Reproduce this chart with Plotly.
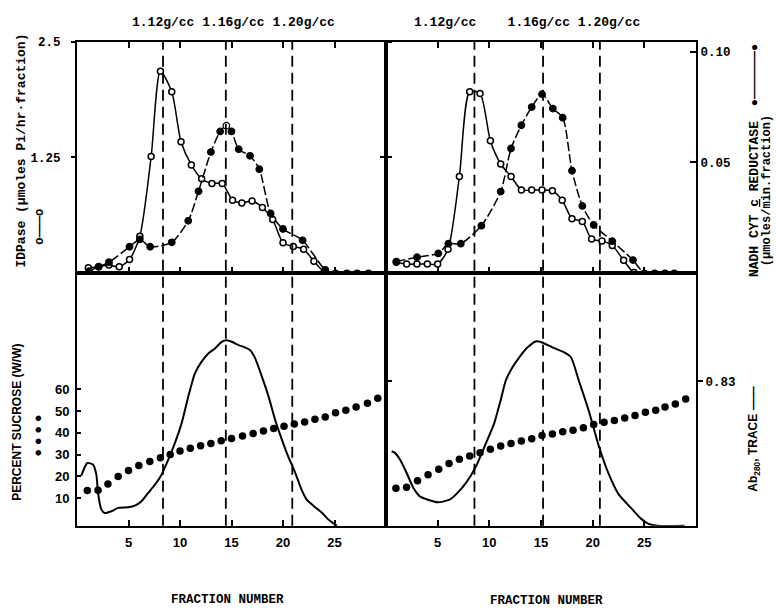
import plotly.graph_objects as go

# ---------------- DATA ----------------
# Top-left panel: IDPase (open circles, left scale) and NADH cyt c reductase (filled, right scale)
tl_idp_x = [1.1, 2.1, 3.1, 4.1, 5.1, 6.1, 7.2, 8.1, 9.2, 10.1, 11.1, 12.1, 13.1, 14.1, 15.1, 16.0, 17.0, 18.0, 19.0, 20.0, 21.0, 22.0, 23.0, 24.0, 26.2, 28.3]
tl_idp_y = [0.06, 0.07, 0.09, 0.07, 0.15, 0.40, 1.26, 2.18, 1.96, 1.42, 1.17, 1.02, 0.97, 0.97, 0.79, 0.76, 0.78, 0.71, 0.58, 0.33, 0.29, 0.26, 0.13, 0.02, 0.0, 0.0]
tl_nadh_x = [1.2, 2.1, 3.1, 5.1, 6.1, 7.1, 9.2, 10.8, 11.8, 13.0, 13.9, 14.5, 15.0, 15.7, 16.8, 17.7, 18.8, 20.0, 21.9, 24.1, 25.1, 27.2]
tl_nadh_y = [0.001, 0.003, 0.005, 0.012, 0.0153, 0.012, 0.014, 0.0237, 0.037, 0.0547, 0.064, 0.0666, 0.064, 0.056, 0.053, 0.047, 0.027, 0.020, 0.0149, 0.0016, 0.0, 0.0]
tl_nadh_open = 11  # index of the open-drawn peak point

# Top-right panel
tr_idp_x = [1.0, 2.0, 3.0, 4.0, 5.0, 6.0, 7.1, 8.1, 9.1, 10.1, 11.1, 12.1, 13.1, 14.1, 15.1, 16.1, 17.05, 18.0, 19.0, 19.9, 20.9, 21.9, 23.0, 24.0, 27.0]
tr_idp_y = [0.12, 0.10, 0.10, 0.10, 0.10, 0.26, 1.045, 1.96, 1.94, 1.43, 1.18, 1.045, 0.90, 0.90, 0.90, 0.89, 0.79, 0.59, 0.56, 0.37, 0.35, 0.30, 0.14, 0.01, 0.0]
tr_nadh_x = [1.0, 3.0, 5.06, 6.03, 7.24, 9.23, 11.1, 12.1, 13.1, 14.1, 15.1, 16.15, 17.1, 18.0, 19.0, 20.1, 21.9, 23.9, 25.0, 26.0, 27.9]
tr_nadh_y = [0.0053, 0.0073, 0.009, 0.0134, 0.0134, 0.0215, 0.0369, 0.0563, 0.0668, 0.075, 0.0808, 0.0743, 0.0702, 0.0463, 0.0304, 0.0218, 0.0145, 0.006, 0.0, 0.0, 0.0]

# Bottom-left panel: percent sucrose (dots) and Ab280 trace (line)
bl_suc_x = [1.0, 2.04, 3.0, 4.0, 5.0, 6.0, 7.07, 8.1, 9.05, 10.0, 11.0, 12.0, 13.0, 14.0, 15.0, 16.07, 17.1, 18.1, 19.1, 20.1, 21.1, 22.1, 23.1, 24.1, 25.1, 26.1, 27.1, 28.2, 29.2]
bl_suc_y = [13.5, 13.6, 16.5, 20.0, 22.7, 25.0, 26.8, 28.6, 30.1, 31.7, 32.9, 34.1, 35.1, 36.4, 37.4, 38.5, 39.7, 40.8, 42.0, 43.0, 44.0, 45.0, 46.2, 47.3, 49.2, 50.3, 51.8, 53.6, 55.9]
bl_ab_x = [0.42, 1.0, 1.56, 1.88, 2.04, 2.37, 2.69, 3.34, 3.99, 4.97, 5.61, 6.26, 6.91, 7.56, 8.21, 8.86, 9.5, 10.16, 10.8, 11.45, 12.1, 12.75, 13.4, 14.05, 14.54, 15.02, 15.7, 16.3, 16.8, 17.3, 17.95, 18.6, 19.24, 19.9, 20.5, 21.2, 21.8, 22.3, 23.0, 23.8, 24.4, 25.25]
bl_ab_y = [0.288, 0.361, 0.351, 0.294, 0.189, 0.093, 0.074, 0.084, 0.103, 0.107, 0.116, 0.141, 0.189, 0.236, 0.294, 0.380, 0.475, 0.590, 0.742, 0.876, 0.943, 0.990, 1.019, 1.057, 1.066, 1.057, 1.038, 1.025, 1.009, 0.962, 0.857, 0.742, 0.608, 0.494, 0.399, 0.303, 0.208, 0.151, 0.113, 0.074, 0.036, 0.0]

# Bottom-right panel
br_suc_x = [0.96, 1.99, 3.05, 4.07, 5.1, 6.1, 7.1, 8.1, 9.1, 10.1, 11.1, 12.1, 13.1, 14.1, 15.1, 16.1, 17.1, 18.1, 19.1, 20.1, 21.1, 22.1, 23.1, 24.1, 25.1, 26.1, 27.0, 28.0, 29.0]
br_suc_y = [14.5, 15.0, 18.0, 20.8, 23.3, 25.9, 27.9, 29.4, 30.9, 32.4, 34.0, 35.1, 36.2, 37.3, 38.8, 39.5, 40.5, 41.2, 42.3, 43.8, 44.9, 45.6, 46.8, 47.9, 49.4, 50.3, 51.8, 53.2, 55.5]
br_ab_x = [0.55, 0.87, 1.35, 1.99, 2.63, 3.27, 3.91, 5.03, 6.15, 6.8, 7.76, 8.72, 9.68, 10.48, 11.1, 11.6, 12.24, 12.9, 13.7, 14.5, 15.1, 16.1, 17.2, 17.9, 18.65, 19.6, 20.6, 21.5, 22.5, 23.8, 24.7, 25.4, 26.3, 28.9]
br_ab_y = [0.428, 0.419, 0.381, 0.305, 0.220, 0.169, 0.153, 0.135, 0.150, 0.182, 0.248, 0.343, 0.476, 0.590, 0.722, 0.836, 0.911, 0.968, 1.025, 1.059, 1.053, 1.025, 0.997, 0.968, 0.836, 0.665, 0.457, 0.305, 0.182, 0.097, 0.040, 0.011, 0.0, 0.0]

# density marker lines (fraction positions) and labels
left_density_x = [8.35, 14.45, 20.9]
right_density_x = [8.56, 15.2, 20.7]
left_density_label = "1.12g/cc 1.16g/cc 1.20g/cc"
right_density_label = "1.12g/cc    1.16g/cc 1.20g/cc"

fraction_ticks = [5, 10, 15, 20, 25]
idp_ticks = [1.25, 2.5]
idp_ticklabels = ["1.25", "2.5"]
nadh_ticks = [0.05, 0.10]
nadh_ticklabels = ["0.05", "0.10"]
suc_ticks = [10, 20, 30, 40, 50, 60]
ab_ticks = [0.83]
ab_ticklabels = ["0.83"]

# ---------------- LAYOUT GEOMETRY ----------------
W, H = 776, 610
X0, XM, X1 = 77 / W, 386 / W, 696 / W
YT, YM, YB = 1 - 36 / H, 1 - 270 / H, 1 - 525 / H

MONO = "Liberation Mono"
SANS = "Liberation Sans"
K = "black"

fig = go.Figure()

open_marker = dict(symbol="circle", size=6, color="white", line=dict(color=K, width=1.5))
idp_line = dict(color=K, width=1.5, shape="spline", smoothing=0.7)
nadh_line = dict(color=K, width=1.5, shape="spline", smoothing=0.7, dash="9px,3px")

# top-left
fig.add_trace(go.Scatter(x=tl_idp_x, y=tl_idp_y, xaxis="x", yaxis="y", mode="lines+markers",
                         line=idp_line, marker=open_marker, showlegend=False))
tl_colors = ["white" if i == tl_nadh_open else K for i in range(len(tl_nadh_x))]
fig.add_trace(go.Scatter(x=tl_nadh_x, y=tl_nadh_y, xaxis="x", yaxis="y2", mode="lines+markers",
                         line=nadh_line,
                         marker=dict(symbol="circle", size=6.5, color=tl_colors, line=dict(color=K, width=1.3)),
                         showlegend=False))
# top-right
fig.add_trace(go.Scatter(x=tr_idp_x, y=tr_idp_y, xaxis="x2", yaxis="y3", mode="lines+markers",
                         line=idp_line, marker=open_marker, showlegend=False))
fig.add_trace(go.Scatter(x=tr_nadh_x, y=tr_nadh_y, xaxis="x2", yaxis="y4", mode="lines+markers",
                         line=nadh_line,
                         marker=dict(symbol="circle", size=6.5, color=K, line=dict(color=K, width=1.3)),
                         showlegend=False))
# bottom-left
fig.add_trace(go.Scatter(x=bl_ab_x, y=bl_ab_y, xaxis="x3", yaxis="y6", mode="lines",
                         line=dict(color=K, width=2, shape="spline", smoothing=0.6), showlegend=False))
fig.add_trace(go.Scatter(x=bl_suc_x, y=bl_suc_y, xaxis="x3", yaxis="y5", mode="markers",
                         marker=dict(symbol="circle", size=7.5, color=K), showlegend=False))
# bottom-right
fig.add_trace(go.Scatter(x=br_ab_x, y=br_ab_y, xaxis="x4", yaxis="y8", mode="lines",
                         line=dict(color=K, width=2, shape="spline", smoothing=0.6), showlegend=False))
fig.add_trace(go.Scatter(x=br_suc_x, y=br_suc_y, xaxis="x4", yaxis="y7", mode="markers",
                         marker=dict(symbol="circle", size=7.5, color=K), showlegend=False))

xcommon = dict(range=[0, 30], showgrid=False, zeroline=False, showline=True, linecolor=K, linewidth=2,
               ticks="inside", ticklen=6, tickwidth=1.5, tickcolor=K, tickvals=fraction_ticks)
ycommon = dict(showgrid=False, zeroline=False, showline=True, linecolor=K, linewidth=2,
               tickcolor=K, tickwidth=1.5)
tickfont_mono = dict(family=MONO, size=12.5, color=K, weight="bold")
tickfont_sans = dict(family=SANS, size=13, color=K, weight="bold")

IDP_RANGE = [0, 2.5]
NADH_RANGE = [0, 0.1045]
SUC_RANGE = [-2.7, 113.2]
AB_RANGE = [0, 1.45]

fig.update_layout(
    width=W, height=H, margin=dict(l=0, r=0, t=0, b=0),
    paper_bgcolor="white", plot_bgcolor="white",
    xaxis=dict(**xcommon, domain=[X0, XM], anchor="y", showticklabels=False, mirror="ticks"),
    xaxis2=dict(**xcommon, domain=[XM, X1], anchor="y3", showticklabels=False, mirror="ticks"),
    xaxis3=dict(**xcommon, domain=[X0, XM], anchor="y5", showticklabels=True, mirror=True,
                tickfont=tickfont_sans, ticklabelstandoff=4),
    xaxis4=dict(**xcommon, domain=[XM, X1], anchor="y7", showticklabels=True, mirror=True,
                tickfont=tickfont_sans, ticklabelstandoff=4),
    yaxis=dict(**ycommon, domain=[YM, YT], anchor="x", range=IDP_RANGE, tickvals=idp_ticks,
               ticktext=idp_ticklabels, ticks="outside", ticklen=4, mirror="ticks",
               tickfont=tickfont_mono, ticklabelstandoff=8),
    yaxis2=dict(overlaying="y", anchor="x", side="right", range=NADH_RANGE, showgrid=False,
                zeroline=False, showline=False, showticklabels=False, ticks=""),
    yaxis3=dict(**ycommon, domain=[YM, YT], anchor="x2", range=IDP_RANGE, tickvals=[1.25],
                ticks="outside", ticklen=4, showticklabels=False, mirror=True),
    yaxis4=dict(**ycommon, overlaying="y3", anchor="x2", side="right", range=NADH_RANGE,
                tickvals=nadh_ticks, ticktext=nadh_ticklabels, ticks="inside", ticklen=6,
                tickfont=tickfont_mono),
    yaxis5=dict(**ycommon, domain=[YB, YM], anchor="x3", range=SUC_RANGE, tickvals=suc_ticks,
                ticks="inside", ticklen=4, mirror=True, tickfont=tickfont_sans, ticklabelstandoff=3),
    yaxis6=dict(overlaying="y5", anchor="x3", side="right", range=AB_RANGE, showgrid=False,
                zeroline=False, showline=False, tickvals=ab_ticks, ticks="outside", ticklen=5,
                tickwidth=1.5, tickcolor=K, showticklabels=False),
    yaxis7=dict(**ycommon, domain=[YB, YM], anchor="x4", range=SUC_RANGE, tickvals=[],
                showticklabels=False, mirror=True),
    yaxis8=dict(**ycommon, overlaying="y7", anchor="x4", side="right", range=AB_RANGE,
                tickvals=ab_ticks, ticktext=ab_ticklabels, ticks="outside", ticklen=5,
                tickfont=tickfont_mono),
)

# dashed density lines
dash_style = dict(color=K, width=1.8, dash="11px,6px")
for xv in left_density_x:
    fig.add_shape(type="line", xref="x", yref="paper", x0=xv, x1=xv, y0=YB, y1=YT, line=dash_style)
for xv in right_density_x:
    fig.add_shape(type="line", xref="x2", yref="paper", x0=xv, x1=xv, y0=YB, y1=YT, line=dash_style)


def ann(text, px, py, font, angle=0):
    fig.add_annotation(text=text, x=px / W, y=1 - py / H, xref="paper", yref="paper",
                       showarrow=False, textangle=angle, font=font, xanchor="center", yanchor="middle")


monob = dict(family=MONO, size=13, color=K, weight="bold")
monob12 = dict(family=MONO, size=12, color=K, weight="bold")
sansb = dict(family=SANS, size=12, color=K, weight="bold")

ann(left_density_label, 233, 17, monob)
ann(right_density_label, 527, 17, monob)
ann("IDPase (μmoles Pi/hr·fraction)", 22, 146, monob, -90)
ann("o———o", 40, 223, monob12, -90)
ann("PERCENT SUCROSE (W/W)", 17, 421, sansb, -90)
ann("● ● ● ●", 38, 434, dict(family=SANS, size=13, color=K), -90)
ann('NADH CYT <span style="text-decoration:underline">c</span> REDUCTASE', 754, 195, monob, -90)
ann("●————●", 754, 70, dict(family=SANS, size=12, color=K, weight="bold"), -90)
ann("(μmoles/min.fraction)", 767, 187, monob12, -90)
ann("Ab<sub>280</sub>, TRACE ——", 754, 438, sansb, -90)
ann("FRACTION NUMBER", 227, 600, dict(family=MONO, size=12.5, color=K, weight="bold"))
ann("FRACTION NUMBER", 546, 601, dict(family=MONO, size=12.5, color=K, weight="bold"))

fig.write_html("out.html")
